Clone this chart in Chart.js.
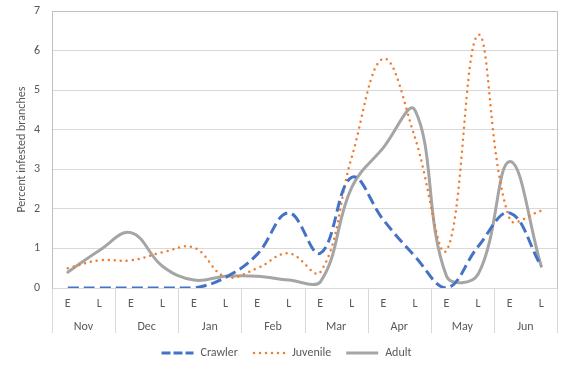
<!DOCTYPE html>
<html>
<head>
<meta charset="utf-8">
<script src="https://cdn.jsdelivr.net/npm/chart.js@4"></script>
<style>
  html, body { margin: 0; padding: 0; background: #ffffff; }
  #wrap { width: 568px; height: 371px; }
</style>
</head>
<body>
<div id="wrap"><canvas id="c" width="568" height="371"></canvas></div>
<script>
// ---- data ----
const periods = ['E','L','E','L','E','L','E','L','E','L','E','L','E','L','E','L'];
const months = ['Nov','Dec','Jan','Feb','Mar','Apr','May','Jun'];
const crawler  = [0, 0, 0, 0, 0, 0.27, 0.85, 1.9, 0.88, 2.8, 1.72, 0.8, 0, 1.05, 1.9, 0.55];
const juvenile = [0.5, 0.7, 0.7, 0.9, 1.02, 0.28, 0.5, 0.88, 0.4, 3.32, 5.8, 3.8, 0.95, 6.4, 1.75, 1.95];
const adult    = [0.4, 0.95, 1.4, 0.55, 0.2, 0.3, 0.3, 0.2, 0.15, 2.55, 3.55, 4.5, 0.3, 0.35, 3.2, 0.55];
const yTitle = 'Percent infested branches';

const FONT = 'Calibri, Carlito, Lato, "Open Sans", sans-serif';
const TXT = '#595959';

// small legend swatches that show each line style
function swatch(color, width, dash, cap) {
  const cv = document.createElement('canvas');
  cv.width = 34; cv.height = 8;
  const g = cv.getContext('2d');
  g.strokeStyle = color; g.lineWidth = width; g.lineCap = cap; g.setLineDash(dash);
  g.beginPath(); g.moveTo(cap === 'round' ? 2 : 1, 4); g.lineTo(33, 4); g.stroke();
  return cv;
}

const framePlugin = {
  id: 'frame',
  beforeDatasetsDraw(chart) {
    const ctx = chart.ctx, a = chart.chartArea;
    const x = chart.scales.x, x2 = chart.scales.x2;
    ctx.save();
    ctx.strokeStyle = '#d9d9d9';
    ctx.lineWidth = 1;
    const n = months.length;
    for (let k = 0; k <= n; k++) {
      const px = Math.round(x.left + (x.right - x.left) * k / n) + 0.5;
      ctx.beginPath();
      ctx.moveTo(px, a.bottom);
      ctx.lineTo(px, x2.bottom);
      ctx.stroke();
    }
    ctx.strokeStyle = '#bfbfbf';
    const l = Math.round(a.left) + 0.5, r = Math.round(a.right) + 0.5, t = Math.round(a.top) + 0.5, b = Math.round(a.bottom) + 0.5;
    ctx.beginPath();
    ctx.moveTo(l, b); ctx.lineTo(l, t); ctx.lineTo(r, t); ctx.lineTo(r, b);
    ctx.stroke();
    ctx.restore();
  }
};

new Chart(document.getElementById('c'), {
  type: 'line',
  data: {
    labels: periods,
    datasets: [
      { label: 'Crawler', data: crawler, borderColor: '#4472C4', backgroundColor: '#4472C4',
        borderWidth: 3, borderDash: [11, 5], borderCapStyle: 'butt', tension: 0.4, pointRadius: 0, fill: false,
        pointStyle: swatch('#4472C4', 3, [9, 3], 'butt') },
      { label: 'Juvenile', data: juvenile, borderColor: '#ED7D31', backgroundColor: '#ED7D31',
        borderWidth: 2.5, borderDash: [0, 6], borderCapStyle: 'round', tension: 0.4, pointRadius: 0, fill: false,
        pointStyle: swatch('#ED7D31', 2.5, [0, 6], 'round') },
      { label: 'Adult', data: adult, borderColor: '#A5A5A5', backgroundColor: '#A5A5A5',
        borderWidth: 3, borderCapStyle: 'round', tension: 0.4, pointRadius: 0, fill: false,
        pointStyle: swatch('#A5A5A5', 3, [], 'butt') }
    ]
  },
  options: {
    responsive: false,
    animation: false,
    devicePixelRatio: 1,
    layout: { padding: { left: 15, right: 11, top: 5, bottom: 2 } },
    plugins: {
      tooltip: { enabled: false },
      legend: {
        position: 'bottom',
        labels: {
          usePointStyle: true,
          pointStyleWidth: 34,
          boxHeight: 12,
          color: TXT,
          font: { family: FONT, size: 12 },
          padding: 14
        }
      }
    },
    scales: {
      x: {
        type: 'category',
        position: 'bottom',
        offset: true,
        grid: { display: false, drawTicks: false },
        border: { display: false },
        ticks: { color: TXT, font: { family: FONT, size: 12 }, padding: 9, maxRotation: 0, autoSkip: false },
        afterFit: s => { s.height = 30; }
      },
      x2: {
        type: 'category',
        position: 'bottom',
        labels: months,
        offset: true,
        grid: { display: false, drawTicks: false },
        border: { display: false },
        ticks: { color: TXT, font: { family: FONT, size: 12 }, padding: 2, maxRotation: 0, autoSkip: false },
        afterFit: s => { s.height = 15; }
      },
      y: {
        min: 0, max: 7,
        ticks: { stepSize: 1, color: TXT, font: { family: FONT, size: 12 }, padding: 4 },
        grid: { color: '#d9d9d9', drawTicks: true, tickLength: 8, tickColor: 'rgba(0,0,0,0)' },
        border: { display: false },
        title: { display: true, text: yTitle, color: TXT, font: { family: FONT, size: 12 }, padding: { top: 0, bottom: 3 } },
        afterFit: s => { s.width = 37; }
      }
    }
  },
  plugins: [framePlugin]
});
</script>
</body>
</html>
